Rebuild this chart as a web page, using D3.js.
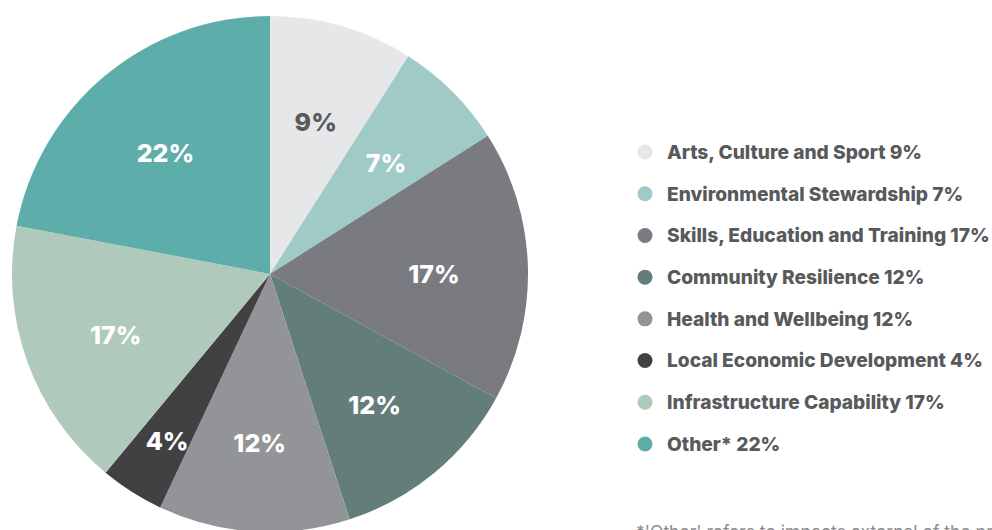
<!DOCTYPE html>
<html>
<head>
<meta charset="utf-8">
<script src="https://cdn.jsdelivr.net/npm/d3@7"></script>
<style>
  body { margin: 0; background: #fff; }
  svg { display: block; }
</style>
</head>
<body>
<svg id="chart" width="992" height="530"></svg>
<script>
// slice data, clockwise from 12 o'clock
const categories = ["Arts, Culture and Sport", "Environmental Stewardship", "Skills, Education and Training",
  "Community Resilience", "Health and Wellbeing", "Local Economic Development",
  "Infrastructure Capability", "Other*"];
const values = [9, 7, 17, 12, 12, 4, 17, 22];
const colours = ["#e6e7e9", "#9fcac6", "#7a7b80", "#637d7b", "#939498", "#414143", "#afc9bb", "#5daeaa"];
const labelColours = ["#58595b", "#fff", "#fff", "#fff", "#fff", "#fff", "#fff", "#fff"];
const footnote = "*'Other' refers to impacts external of the predefined categories";

const font = "Inter, Roboto, 'Noto Sans', sans-serif";
const svg = d3.select("#chart");
const cx = 270, cy = 274, r = 258;

const pie = d3.pie().sort(null).value(d => d);
const arcs = pie(values);
const arc = d3.arc().innerRadius(0).outerRadius(r);

const g = svg.append("g").attr("transform", `translate(${cx},${cy})`);

g.selectAll("path")
  .data(arcs)
  .enter()
  .append("path")
  .attr("d", arc)
  .attr("fill", (d, i) => colours[i]);

// narrow slices get their label pushed out a bit
function labelPos(d) {
  let lr = (d.endAngle - d.startAngle) < 0.3 ? 192 : 164;
  let a = (d.startAngle + d.endAngle) / 2;
  return [Math.sin(a) * lr, -Math.cos(a) * lr + 5];
}

g.selectAll("text.lbl")
  .data(arcs)
  .enter()
  .append("text")
  .attr("class", "lbl")
  .attr("x", d => labelPos(d)[0])
  .attr("y", d => labelPos(d)[1])
  .attr("text-anchor", "middle")
  .attr("dy", "0.36em")
  .style("font-family", font)
  .style("font-weight", "800")
  .style("font-size", "25px")
  .style("fill", (d, i) => labelColours[i])
  .text(d => d.data + "%");

// legend
const legend = svg.append("g");
const rowY = d3.scaleLinear().domain([0, 7]).range([152, 444]);

categories.forEach((c, i) => {
  legend.append("circle")
    .attr("cx", 645)
    .attr("cy", rowY(i))
    .attr("r", 7.5)
    .style("fill", colours[i]);
  legend.append("text")
    .attr("class", "leg")
    .attr("x", 667)
    .attr("y", rowY(i))
    .attr("dy", "0.36em")
    .style("font-family", font)
    .style("font-weight", "800")
    .style("font-size", "17px")
    .style("fill", "#58595b")
    .text(c + " " + values[i] + "%");
});

// size the legend so the longest line runs to the right edge like the original
let widest = 0;
legend.selectAll("text.leg").each(function() {
  widest = Math.max(widest, this.getComputedTextLength());
});
legend.selectAll("text.leg").style("font-size", (17 * 323 / widest) + "px");

svg.append("text")
  .attr("x", 636)
  .attr("y", 538)
  .style("font-family", font)
  .style("font-size", "17.5px")
  .style("fill", "#8a8b8d")
  .text(footnote);
</script>
</body>
</html>
